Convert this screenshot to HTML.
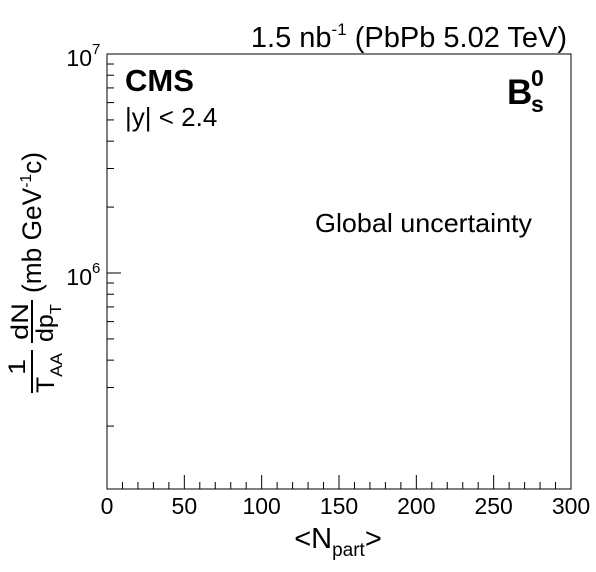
<!DOCTYPE html>
<html><head><meta charset="utf-8"><style>
html,body{margin:0;padding:0;background:#fff;}
svg{display:block;font-family:"Liberation Sans",Arial,sans-serif;}
</style></head><body>
<svg id="chart" width="596" height="572" viewBox="0 0 596 572">
<rect x="0" y="0" width="596" height="572" fill="#fff"/>
<g id="axes"></g>
<text x="567" y="47" text-anchor="end" font-size="29">1.5 nb<tspan dy="-12" font-size="17">-1</tspan><tspan dy="12"> (PbPb 5.02 TeV)</tspan></text>
<text x="125" y="91" font-size="31" font-weight="bold">CMS</text>
<text x="125" y="126" font-size="26">|y| &lt; 2.4</text>
<text x="507" y="104" font-size="35" font-weight="bold">B</text>
<text x="531" y="86" font-size="23" font-weight="bold">0</text>
<text x="531" y="112" font-size="23" font-weight="bold">s</text>
<text x="315" y="232" font-size="26" textLength="217" lengthAdjust="spacingAndGlyphs">Global uncertainty</text>
<text x="338" y="548" text-anchor="middle" font-size="29">&lt;N<tspan dy="8" font-size="19">part</tspan><tspan dy="-8">&gt;</tspan></text>
<g transform="rotate(-90)">
<text x="-367" y="25" text-anchor="middle" font-size="24" textLength="16" lengthAdjust="spacingAndGlyphs">1</text>
<line x1="-393" y1="32" x2="-350" y2="32" stroke="#000" stroke-width="2"/>
<text x="-393" y="54" font-size="25" textLength="40" lengthAdjust="spacingAndGlyphs">T<tspan dy="8" font-size="17">AA</tspan></text>
<text x="-340" y="28" font-size="24" textLength="37" lengthAdjust="spacingAndGlyphs">dN</text>
<line x1="-343" y1="32" x2="-300" y2="32" stroke="#000" stroke-width="2"/>
<text x="-342" y="53" font-size="24" textLength="38" lengthAdjust="spacingAndGlyphs">dp<tspan dy="8" font-size="16">T</tspan></text>
<text x="-293" y="41" font-size="27" textLength="141" lengthAdjust="spacingAndGlyphs">(mb GeV<tspan dy="-10" font-size="16">-1</tspan><tspan dy="10">c)</tspan></text>
</g>
</svg>
<script>
const xTickValues=[0,50,100,150,200,250,300];
const xTickLabels=["0","50","100","150","200","250","300"];
const yMajorValues=[1e6,1e7];
const seriesX=[];
const seriesY=[];
const L=107,R=571,T=54,B=489;
const xMin=0,xMax=300,yLogMin=6-216/219,yLogMax=7;
function sx(v){return L+(v-xMin)/(xMax-xMin)*(R-L);}
function sy(v){return B-(Math.log10(v)-yLogMin)/(yLogMax-yLogMin)*(B-T);}
const NS="http://www.w3.org/2000/svg";
const g=document.getElementById('axes');
function mk(t,a){const e=document.createElementNS(NS,t);for(const k in a)e.setAttribute(k,a[k]);g.appendChild(e);return e;}
const frame=mk('rect',{x:L,y:T,width:R-L,height:B-T,fill:'none',stroke:'#000','stroke-width':1});


for(let v=xMin;v<=xMax;v+=10){
 const major=v%50===0;
 const t=mk('line',{x1:sx(v),x2:sx(v),y1:B,y2:B-(major?14:7),stroke:'#000','stroke-width':1});
 
 
}
xTickValues.forEach((v,i)=>{
 const t=mk('text',{x:sx(v),y:514,'text-anchor':'middle','font-size':23});
 t.textContent=xTickLabels[i];
 
 
});
for(let d=5;d<=6;d++){for(let m=1;m<=9;m++){
 const v=m*Math.pow(10,d);
 if(Math.log10(v)<yLogMin-1e-9)continue;
 const y=sy(v);
 const t=mk('line',{x1:L,x2:L+(m===1?14:7),y1:y,y2:y,stroke:'#000','stroke-width':1});
 
 
}}
const t7=mk('line',{x1:L,x2:L+14,y1:sy(1e7),y2:sy(1e7),stroke:'#000'});


yMajorValues.forEach(v=>{
 const t=mk('text',{x:L-15,y:sy(v)+12,'text-anchor':'end','font-size':23});
 t.textContent='10';
 
 
 const s=mk('text',{x:L-15,y:sy(v),'font-size':15});
 s.textContent=String(Math.round(Math.log10(v)));
 
 
});
seriesX.forEach((x,i)=>{
 const c=mk('circle',{cx:sx(x),cy:sy(seriesY[i]),r:4,fill:'#000'});
 
 
});
</script>
</body></html>
